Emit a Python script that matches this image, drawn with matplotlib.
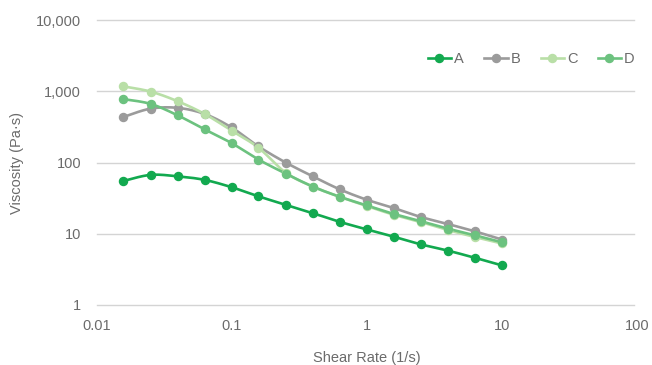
import numpy as np
import matplotlib.pyplot as plt
from matplotlib.ticker import FixedLocator, FuncFormatter, NullLocator

# -----------------------------
# Data
# -----------------------------
shear_rate = [0.0158, 0.0251, 0.0398, 0.0631, 0.1, 0.158, 0.251, 0.398,
              0.631, 1.0, 1.58, 2.51, 3.98, 6.31, 10.0]

visc_a = [55, 67, 64, 57, 45, 33.5, 25.5, 19.5, 14.7, 11.5, 9.1, 7.1, 5.8, 4.6, 3.6]
visc_b = [435, 570, 585, 480, 310, 168, 100, 64, 42, 30, 23, 17.2, 13.7, 10.8, 8.3]
visc_c = [1170, 990, 725, 480, 280, 161, 72, 46, 33, 24.5, 18.5, 14.6, 11.3, 9.0, 7.3]
visc_d = [775, 665, 460, 292, 187, 110, 70, 46, 33, 25, 19, 15, 11.8, 9.5, 7.6]

series_names = ["A", "B", "C", "D"]
colors = ["#12a94f", "#9b9b9b", "#b9dfa7", "#6cc27f"]

y_ticks = [1, 10, 100, 1000, 10000]
x_ticks = [0.01, 0.1, 1, 10, 100]

text_color = "#6b6b6b"
grid_color = "#d4d4d4"

plt.rcParams["font.family"] = ["Liberation Sans", "DejaVu Sans"]


# -----------------------------
# Smooth line (Catmull-Rom in log space)
# -----------------------------
def smooth(x, y, n=20):
    lx = np.log10(x)
    ly = np.log10(y)
    pts = np.column_stack([lx, ly])
    pts = np.vstack([pts[0], pts, pts[-1]])
    out = []
    for i in range(1, len(pts) - 2):
        p0, p1, p2, p3 = pts[i - 1], pts[i], pts[i + 1], pts[i + 2]
        t = np.linspace(0, 1, n, endpoint=False)[:, None]
        seg = 0.5 * ((2 * p1) + (-p0 + p2) * t
                     + (2 * p0 - 5 * p1 + 4 * p2 - p3) * t ** 2
                     + (-p0 + 3 * p1 - 3 * p2 + p3) * t ** 3)
        out.append(seg)
    out.append(pts[-2][None, :])
    out = np.vstack(out)
    return 10 ** out[:, 0], 10 ** out[:, 1]


# -----------------------------
# Figure
# -----------------------------
fig = plt.figure(figsize=(6.52, 3.65), dpi=100)
ax = fig.add_axes([96.5 / 652, 60 / 365, 540.5 / 652, 285 / 365])

for name, vals, col in zip(series_names, [visc_a, visc_b, visc_c, visc_d], colors):
    sx, sy = smooth(shear_rate, vals)
    ax.plot(sx, sy, color=col, lw=1.9, solid_capstyle="round", zorder=3)
    ax.plot(shear_rate, vals, ls="none", marker="o", ms=5.8,
            color=col, zorder=4)
    ax.plot([], [], color=col, lw=1.9, marker="o", ms=5.8, label=name)

ax.set_xscale("log")
ax.set_yscale("log")
ax.set_xlim(0.01, 100)
ax.set_ylim(1, 10000)

ax.yaxis.set_major_locator(FixedLocator(y_ticks))
ax.yaxis.set_minor_locator(NullLocator())
ax.xaxis.set_major_locator(FixedLocator(x_ticks))
ax.xaxis.set_minor_locator(NullLocator())
ax.yaxis.set_major_formatter(FuncFormatter(lambda v, p: f"{v:,.0f}"))
ax.xaxis.set_major_formatter(FuncFormatter(lambda v, p: f"{v:g}"))

# horizontal gridlines
for yv in y_ticks:
    ax.axhline(yv, xmin=0.0, xmax=0.995, color=grid_color, lw=1.0,
               clip_on=False, zorder=1)

for s in ax.spines.values():
    s.set_visible(False)

ax.tick_params(axis="both", length=0, labelsize=10.5, colors=text_color)
ax.tick_params(axis="y", pad=11)
ax.tick_params(axis="x", pad=10)

ax.set_xlabel("Shear Rate (1/s)", fontsize=10.5, color=text_color, labelpad=13)
ax.set_ylabel("Viscosity (Pa·s)", fontsize=10.5, color=text_color, labelpad=9)

ax.legend(loc="upper right", bbox_to_anchor=(1.02, 0.935), ncol=4,
          frameon=False, fontsize=10.5, labelcolor=text_color,
          handlelength=1.6, handletextpad=0.2, columnspacing=1.4)

fig.savefig("out.png", dpi=100)
